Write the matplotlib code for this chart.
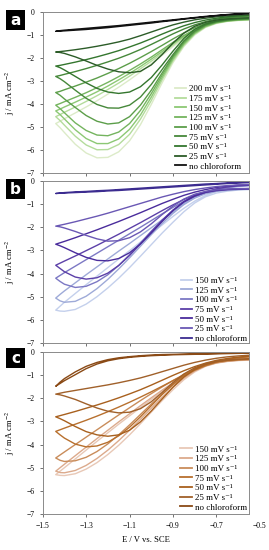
import matplotlib
matplotlib.use('Agg')
import matplotlib.pyplot as plt
from matplotlib.patches import Rectangle

plt.rcParams['font.family'] = ['Liberation Serif', 'DejaVu Serif']
plt.rcParams['mathtext.fontset'] = 'stix'

# potential grid shared by all branches (V vs. SCE)
E = [-1.44, -1.42, -1.40, -1.35, -1.30, -1.25, -1.20, -1.15, -1.10, -1.05,
     -1.00, -0.95, -0.90, -0.85, -0.80, -0.75, -0.70, -0.65, -0.60, -0.55]

# ---- panel a (green) ----
a_rates = ['200', '175', '150', '125', '100', '75', '50', '25']
a_colors = ['#dcebc8', '#b4dc9c', '#8cc874', '#74b45e', '#5c9e4a', '#46883a', '#34762e', '#2c5c28']
a_fwd = [
    [-4.85, -5.03, -5.24, -5.75, -6.13, -6.34, -6.32, -6.08, -5.60, -4.90, -4.02, -3.08, -2.20, -1.50, -1.00, -0.67, -0.50, -0.41, -0.37, -0.35],
    [-4.55, -4.72, -4.92, -5.40, -5.78, -5.99, -5.98, -5.76, -5.32, -4.66, -3.85, -2.95, -2.12, -1.45, -0.96, -0.65, -0.48, -0.40, -0.36, -0.34],
    [-4.30, -4.46, -4.65, -5.12, -5.50, -5.72, -5.72, -5.52, -5.10, -4.48, -3.70, -2.85, -2.05, -1.40, -0.93, -0.63, -0.47, -0.39, -0.35, -0.33],
    [-4.05, -4.20, -4.38, -4.82, -5.15, -5.35, -5.38, -5.22, -4.85, -4.28, -3.55, -2.75, -1.98, -1.35, -0.90, -0.61, -0.46, -0.38, -0.34, -0.32],
    [-3.50, -3.62, -3.78, -4.15, -4.50, -4.75, -4.87, -4.82, -4.55, -4.05, -3.40, -2.65, -1.92, -1.30, -0.86, -0.58, -0.44, -0.37, -0.33, -0.31],
    [-2.80, -2.90, -3.03, -3.40, -3.75, -4.02, -4.17, -4.18, -4.05, -3.70, -3.15, -2.50, -1.85, -1.25, -0.82, -0.56, -0.42, -0.35, -0.31, -0.29],
    [-2.35, -2.42, -2.52, -2.80, -3.08, -3.32, -3.48, -3.54, -3.48, -3.25, -2.85, -2.30, -1.70, -1.15, -0.75, -0.52, -0.40, -0.33, -0.29, -0.27],
    [-1.74, -1.76, -1.80, -1.95, -2.13, -2.32, -2.48, -2.60, -2.64, -2.58, -2.30, -1.85, -1.35, -0.92, -0.62, -0.45, -0.35, -0.30, -0.27, -0.25],
]
a_rev = [
    [-4.85, -4.75, -4.64, -4.39, -4.13, -3.86, -3.57, -3.27, -2.95, -2.61, -2.25, -1.88, -1.50, -1.15, -0.85, -0.61, -0.43, -0.32, -0.26, -0.22],
    [-4.55, -4.46, -4.36, -4.13, -3.89, -3.64, -3.37, -3.09, -2.79, -2.47, -2.14, -1.79, -1.44, -1.10, -0.82, -0.59, -0.42, -0.31, -0.25, -0.21],
    [-4.30, -4.22, -4.13, -3.92, -3.70, -3.47, -3.22, -2.95, -2.67, -2.37, -2.05, -1.72, -1.38, -1.06, -0.79, -0.57, -0.40, -0.30, -0.24, -0.20],
    [-4.05, -3.98, -3.90, -3.71, -3.51, -3.29, -3.06, -2.81, -2.54, -2.26, -1.96, -1.64, -1.32, -1.02, -0.76, -0.55, -0.39, -0.29, -0.23, -0.19],
    [-3.50, -3.45, -3.38, -3.22, -3.05, -2.87, -2.67, -2.46, -2.23, -1.98, -1.72, -1.45, -1.17, -0.91, -0.68, -0.50, -0.36, -0.27, -0.21, -0.18],
    [-2.80, -2.76, -2.71, -2.59, -2.46, -2.32, -2.17, -2.01, -1.83, -1.63, -1.41, -1.18, -0.95, -0.74, -0.56, -0.42, -0.31, -0.24, -0.19, -0.16],
    [-2.35, -2.32, -2.28, -2.18, -2.07, -1.95, -1.82, -1.68, -1.52, -1.35, -1.16, -0.96, -0.77, -0.60, -0.46, -0.35, -0.27, -0.21, -0.17, -0.15],
    [-1.74, -1.72, -1.70, -1.64, -1.57, -1.49, -1.40, -1.30, -1.18, -1.03, -0.87, -0.71, -0.56, -0.44, -0.34, -0.27, -0.21, -0.17, -0.14, -0.12],
]
a_blank_color = '#111111'
a_blank_fwd = [-0.84, -0.83, -0.82, -0.79, -0.76, -0.72, -0.68, -0.63, -0.58, -0.53, -0.48, -0.42, -0.37, -0.31, -0.26, -0.21, -0.16, -0.12, -0.09, -0.07]
a_blank_rev = [-0.84, -0.81, -0.79, -0.75, -0.71, -0.67, -0.63, -0.59, -0.54, -0.49, -0.44, -0.39, -0.34, -0.29, -0.24, -0.19, -0.15, -0.11, -0.08, -0.06]

# ---- panel b (blue/purple) ----
b_rates = ['150', '125', '100', '75', '50', '25']
b_colors = ['#c4d0ec', '#9eaad8', '#7c78c4', '#5c40a8', '#4a2c9c', '#6a58b4']
b_fwd = [
    [-5.58, -5.62, -5.63, -5.55, -5.32, -5.00, -4.62, -4.20, -3.74, -3.25, -2.75, -2.25, -1.78, -1.33, -0.95, -0.68, -0.52, -0.44, -0.39, -0.37],
    [-5.06, -5.18, -5.24, -5.20, -4.98, -4.65, -4.25, -3.80, -3.32, -2.82, -2.32, -1.84, -1.40, -1.02, -0.74, -0.55, -0.45, -0.40, -0.37, -0.35],
    [-4.20, -4.34, -4.46, -4.60, -4.55, -4.35, -4.05, -3.65, -3.18, -2.68, -2.17, -1.69, -1.26, -0.91, -0.66, -0.50, -0.42, -0.38, -0.36, -0.35],
    [-3.64, -3.78, -3.92, -4.15, -4.24, -4.18, -3.98, -3.65, -3.22, -2.72, -2.20, -1.70, -1.26, -0.90, -0.65, -0.49, -0.41, -0.37, -0.35, -0.34],
    [-2.73, -2.80, -2.88, -3.10, -3.30, -3.43, -3.45, -3.35, -3.10, -2.72, -2.25, -1.75, -1.28, -0.90, -0.64, -0.48, -0.40, -0.36, -0.34, -0.33],
    [-1.95, -1.98, -2.03, -2.18, -2.35, -2.50, -2.60, -2.58, -2.45, -2.20, -1.85, -1.45, -1.08, -0.78, -0.57, -0.45, -0.38, -0.35, -0.33, -0.32],
]
b_rev = [
    [-5.58, -5.41, -5.24, -4.86, -4.48, -4.11, -3.74, -3.37, -3.01, -2.64, -2.27, -1.90, -1.53, -1.18, -0.87, -0.62, -0.44, -0.32, -0.25, -0.21],
    [-5.06, -4.90, -4.75, -4.40, -4.05, -3.71, -3.37, -3.03, -2.70, -2.36, -2.02, -1.68, -1.35, -0.98, -0.70, -0.50, -0.37, -0.28, -0.23, -0.20],
    [-4.20, -4.08, -3.96, -3.68, -3.40, -3.12, -2.84, -2.56, -2.28, -2.00, -1.71, -1.42, -1.14, -0.88, -0.66, -0.49, -0.36, -0.27, -0.22, -0.19],
    [-3.64, -3.55, -3.46, -3.24, -3.01, -2.78, -2.54, -2.30, -2.05, -1.80, -1.54, -1.28, -1.03, -0.80, -0.61, -0.46, -0.34, -0.26, -0.21, -0.18],
    [-2.73, -2.67, -2.61, -2.45, -2.28, -2.11, -1.93, -1.75, -1.56, -1.37, -1.17, -0.97, -0.79, -0.62, -0.48, -0.37, -0.28, -0.22, -0.18, -0.16],
    [-1.95, -1.91, -1.87, -1.76, -1.64, -1.52, -1.39, -1.25, -1.11, -0.97, -0.83, -0.69, -0.57, -0.46, -0.37, -0.30, -0.24, -0.20, -0.17, -0.15],
]
b_blank_color = '#3c2c90'
b_blank_fwd = [-0.54, -0.53, -0.52, -0.50, -0.48, -0.46, -0.43, -0.41, -0.38, -0.35, -0.32, -0.29, -0.26, -0.23, -0.20, -0.17, -0.14, -0.11, -0.09, -0.07]
b_blank_rev = [-0.54, -0.52, -0.50, -0.47, -0.45, -0.42, -0.40, -0.37, -0.34, -0.31, -0.28, -0.25, -0.22, -0.19, -0.16, -0.13, -0.11, -0.08, -0.06, -0.05]

# ---- panel c (brown/orange) ----
c_rates = ['150', '125', '100', '75', '50', '25']
c_colors = ['#e8c8b6', '#dcaa8c', '#c98c5a', '#b8702e', '#a8601e', '#a0602a']
c_fwd = [
    [-5.30, -5.33, -5.34, -5.26, -5.06, -4.78, -4.43, -4.03, -3.58, -3.10, -2.60, -2.10, -1.63, -1.20, -0.86, -0.62, -0.48, -0.41, -0.37, -0.35],
    [-5.15, -5.21, -5.22, -5.12, -4.90, -4.60, -4.24, -3.83, -3.38, -2.91, -2.43, -1.96, -1.52, -1.13, -0.82, -0.60, -0.47, -0.40, -0.36, -0.34],
    [-4.58, -4.68, -4.73, -4.70, -4.55, -4.30, -3.97, -3.58, -3.15, -2.70, -2.25, -1.82, -1.42, -1.07, -0.79, -0.59, -0.46, -0.39, -0.35, -0.33],
    [-3.43, -3.58, -3.72, -3.98, -4.10, -4.06, -3.90, -3.62, -3.25, -2.80, -2.32, -1.84, -1.39, -1.01, -0.72, -0.53, -0.42, -0.36, -0.33, -0.31],
    [-2.80, -2.88, -2.97, -3.22, -3.44, -3.58, -3.64, -3.58, -3.38, -3.02, -2.55, -2.03, -1.52, -1.08, -0.75, -0.54, -0.42, -0.36, -0.32, -0.30],
    [-1.82, -1.85, -1.90, -2.05, -2.24, -2.42, -2.56, -2.63, -2.60, -2.45, -2.15, -1.75, -1.32, -0.95, -0.68, -0.50, -0.40, -0.34, -0.31, -0.29],
]
c_rev = [
    [-5.30, -5.15, -5.00, -4.62, -4.24, -3.86, -3.49, -3.12, -2.76, -2.40, -2.05, -1.71, -1.38, -1.07, -0.80, -0.59, -0.43, -0.33, -0.26, -0.22],
    [-5.15, -5.00, -4.85, -4.48, -4.11, -3.74, -3.38, -3.02, -2.67, -2.32, -1.98, -1.65, -1.33, -1.03, -0.77, -0.57, -0.42, -0.32, -0.25, -0.21],
    [-4.58, -4.45, -4.32, -4.00, -3.68, -3.36, -3.04, -2.72, -2.41, -2.10, -1.80, -1.51, -1.23, -0.97, -0.74, -0.55, -0.41, -0.31, -0.25, -0.21],
    [-3.43, -3.36, -3.29, -3.12, -2.95, -2.77, -2.58, -2.38, -2.17, -1.95, -1.72, -1.48, -1.24, -1.00, -0.78, -0.59, -0.43, -0.32, -0.25, -0.20],
    [-2.80, -2.75, -2.70, -2.57, -2.43, -2.29, -2.14, -1.98, -1.81, -1.63, -1.43, -1.22, -1.01, -0.81, -0.63, -0.48, -0.36, -0.28, -0.22, -0.18],
    [-1.82, -1.78, -1.74, -1.66, -1.58, -1.50, -1.42, -1.33, -1.23, -1.12, -0.99, -0.85, -0.71, -0.57, -0.45, -0.35, -0.27, -0.21, -0.17, -0.14],
]
c_blank_color = '#8a4a16'
c_blank_fwd = [-1.48, -1.36, -1.24, -0.98, -0.72, -0.52, -0.38, -0.29, -0.23, -0.19, -0.16, -0.14, -0.12, -0.11, -0.10, -0.09, -0.08, -0.07, -0.06, -0.05]
c_blank_rev = [-1.48, -1.30, -1.15, -0.86, -0.62, -0.45, -0.33, -0.25, -0.20, -0.16, -0.13, -0.11, -0.10, -0.09, -0.08, -0.07, -0.06, -0.05, -0.04, -0.04]

xticks = [-1.5, -1.3, -1.1, -0.9, -0.7]
yticks = [0, -1, -2, -3, -4, -5, -6, -7]

W, H = 269, 550
fig = plt.figure(figsize=(W / 100, H / 100), dpi=100)

# axes boxes in pixels: (top, bottom)
boxes = [(12, 173), (181, 343), (352, 514)]
left_px, right_px = 42.7, 249
letters = ['a', 'b', 'c']
letter_top = [10, 179, 348]
leg_anchor = [(0.64, 0.015), (0.67, 0.0), (0.667, 0.015)]

panels = [
    (a_rates, a_colors, a_fwd, a_rev, a_blank_color, a_blank_fwd, a_blank_rev),
    (b_rates, b_colors, b_fwd, b_rev, b_blank_color, b_blank_fwd, b_blank_rev),
    (c_rates, c_colors, c_fwd, c_rev, c_blank_color, c_blank_fwd, c_blank_rev),
]

for i, (rates, cols, fwd, rev, bcol, bfwd, brev) in enumerate(panels):
    top, bot = boxes[i]
    ax = fig.add_axes([left_px / W, 1 - bot / H, (right_px - left_px) / W, (bot - top) / H])
    for r, c, f, b in zip(rates, cols, fwd, rev):
        ax.plot(E[::-1] + E, f[::-1] + b, color=c, lw=1.0, label=r + ' mV s\u207b\u00b9')
    ax.plot(E[::-1] + E, bfwd[::-1] + brev, color=bcol, lw=1.0, label='no chloroform')

    ax.set_xlim(-1.5, -0.55)
    ax.set_ylim(-7, 0)
    ax.set_xticks(xticks)
    ax.set_yticks(yticks)
    ax.tick_params(direction='out', length=2.2, width=0.7, color='#707070',
                   labelsize=5.5, pad=3.5)
    for s in ax.spines.values():
        s.set_color('#8a8a8a')
        s.set_linewidth(0.7)
    ax.set_ylabel('j / mA cm$^{-2}$', fontsize=6.2)
    ax.yaxis.set_label_coords(-0.125, 0.5)
    if i < 2:
        ax.set_xticklabels([])
    else:
        ax.annotate('\u22120.5', xy=(-0.5, 0), xycoords=('data', 'axes fraction'),
                    xytext=(0, -5.7), textcoords='offset points',
                    ha='center', va='top', fontsize=5.5, annotation_clip=False)
        ax.set_xlabel('E / V vs. SCE', fontsize=6.2)
        ax.xaxis.set_label_coords(0.5, -0.135)

    leg = ax.legend(loc='lower left', bbox_to_anchor=leg_anchor[i], frameon=False,
                    fontsize=6.5, handlelength=1.25, handletextpad=0.35,
                    labelspacing=0.15, borderpad=0, borderaxespad=0)
    for h in leg.get_lines():
        h.set_linewidth(1.3)

    # panel letter in a black square
    lt = letter_top[i]
    fig.patches.append(Rectangle((6 / W, 1 - (lt + 20) / H), 19 / W, 20 / H,
                                 transform=fig.transFigure, facecolor='black',
                                 edgecolor='none'))
    fig.text(15.5 / W, 1 - (lt + 10.5) / H, letters[i], color='white', fontsize=11,
             fontweight='bold', family='DejaVu Sans', ha='center', va='center')

fig.savefig('out.png', dpi=100)
